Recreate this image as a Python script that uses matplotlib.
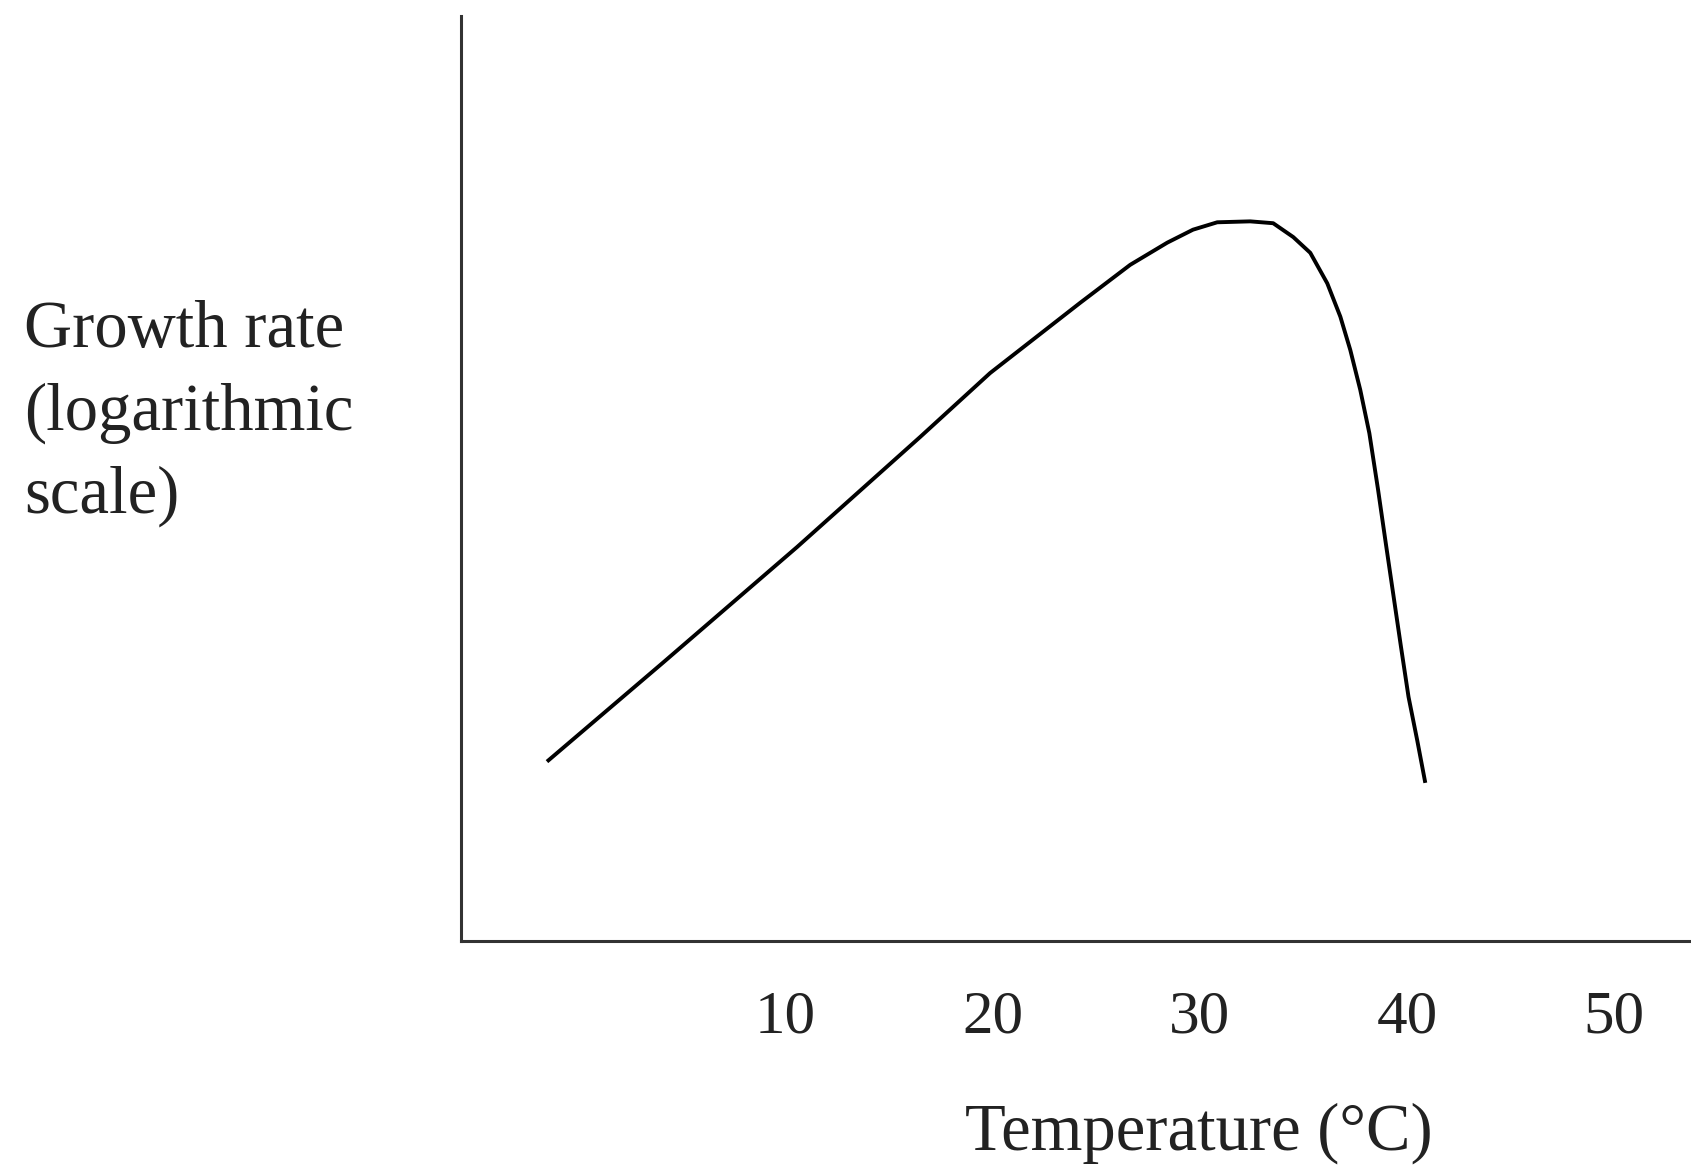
import matplotlib
matplotlib.use('Agg')
import matplotlib.pyplot as plt

# temperature (deg C) and relative growth rate (log scale, arbitrary units)
temperature = [-1.50, 4.10, 10.57, 16.51, 19.88, 24.23, 26.64, 28.43, 29.67,
               30.84, 32.43, 33.54, 34.51, 35.33, 36.15, 36.78, 37.26, 37.74,
               38.18, 38.60, 38.98, 39.34, 39.70, 40.07, 40.49, 40.88]
growth_rate = [1.94, 3.01, 4.26, 5.45, 6.14, 6.90, 7.31, 7.55, 7.69,
               7.77, 7.78, 7.76, 7.61, 7.44, 7.11, 6.75, 6.39, 5.96,
               5.49, 4.88, 4.29, 3.74, 3.19, 2.64, 2.17, 1.71]
tick_values = [10, 20, 30, 40, 50]
tick_labels = ['10', '20', '30', '40', '50']

plt.rcParams['font.family'] = ['Liberation Serif', 'DejaVu Serif']

fig = plt.figure(figsize=(16.91, 11.68), dpi=100)
ax = fig.add_axes([0.2726, 0.1943, 0.7274, 0.7920])

ax.plot(temperature, growth_rate, color='black', linewidth=2.8,
        solid_capstyle='butt', solid_joinstyle='round')

ax.set_xlim(-5.65, 53.7)
ax.set_ylim(0, 10)
ax.set_xticks(tick_values)
ax.set_xticklabels(tick_labels, fontsize=44, color='#222222')
ax.set_yticks([])
ax.tick_params(axis='x', length=0, pad=35)

for side in ['top', 'right']:
    ax.spines[side].set_visible(False)
for side in ['left', 'bottom']:
    ax.spines[side].set_linewidth(2.2)
    ax.spines[side].set_color('#333333')

fig.text(0.709, 0.03, 'Temperature (°C)', fontsize=48, color='#222222',
         ha='center', va='center')
fig.text(0.0142, 0.646, 'Growth rate\n(logarithmic\nscale)', fontsize=48,
         color='#222222', ha='left', va='center', linespacing=1.45)

fig.savefig('out.png', dpi=100)
plt.close(fig)
